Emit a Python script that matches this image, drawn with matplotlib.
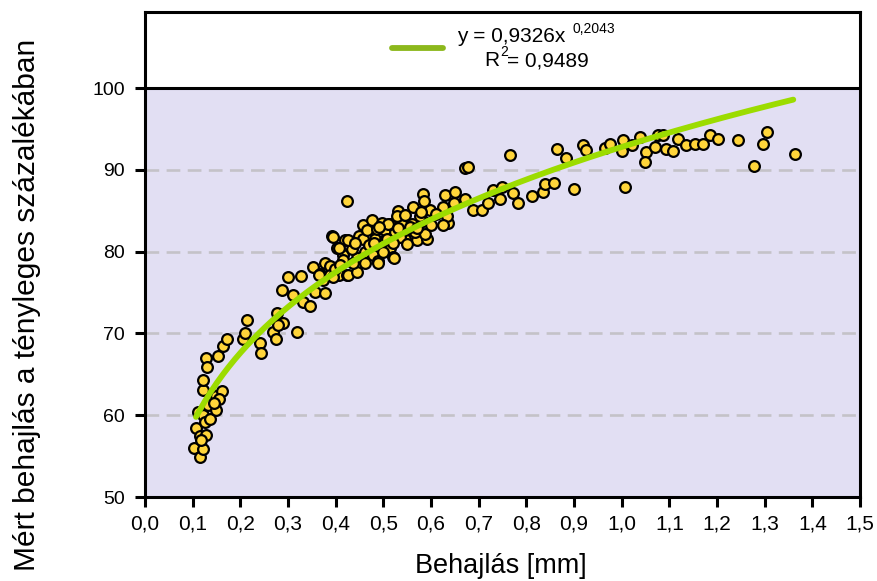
import matplotlib

matplotlib.use("Agg")

import matplotlib.pyplot as plt
import numpy as np

behajlas = [
    0.103, 0.115, 0.122, 0.108, 0.115, 0.129, 0.112, 0.122, 0.126, 0.136,
    0.133, 0.150, 0.140, 0.150, 0.161, 0.155, 0.122, 0.122, 0.128, 0.131,
    0.154, 0.163, 0.173, 0.206, 0.210, 0.213, 0.241, 0.243, 0.269, 0.275,
    0.276, 0.289, 0.318, 0.287, 0.311, 0.332, 0.346, 0.327, 0.353, 0.367,
    0.374, 0.357, 0.378, 0.378, 0.388, 0.388, 0.392, 0.402, 0.420, 0.416,
    0.406, 0.423, 0.399, 0.426, 0.444, 0.416, 0.444, 0.461, 0.461, 0.479,
    0.489, 0.514, 0.521, 0.434, 0.406, 0.426, 0.448, 0.458, 0.482, 0.503,
    0.524, 0.545, 0.570, 0.591, 0.458, 0.465, 0.486, 0.503, 0.524, 0.545,
    0.566, 0.587, 0.476, 0.497, 0.514, 0.539, 0.560, 0.584, 0.531, 0.528,
    0.545, 0.577, 0.562, 0.598, 0.626, 0.636, 0.633, 0.625, 0.584, 0.585,
    0.629, 0.650, 0.648, 0.671, 0.423, 0.671, 0.678, 0.689, 0.706, 0.720,
    0.731, 0.748, 0.745, 0.771, 0.783, 0.766, 0.811, 0.836, 0.839, 0.858,
    0.864, 0.883, 0.899, 0.919, 0.926, 0.965, 0.975, 1.003, 1.000, 1.021,
    1.038, 1.052, 1.049, 1.007, 1.070, 1.077, 1.087, 1.094, 1.108, 1.119,
    1.135, 1.154, 1.171, 1.185, 1.203, 1.245, 1.305, 1.297, 1.278, 1.364,
    0.409, 0.437, 0.489, 0.364, 0.395, 0.507, 0.535, 0.556, 0.510, 0.522,
    0.470, 0.500, 0.550, 0.570, 0.600, 0.610, 0.490, 0.530, 0.440, 0.480,
    0.520, 0.580, 0.395, 0.300, 0.280, 0.145, 0.118,
]
mert = [
    56.0, 54.9, 55.9, 58.4, 57.4, 57.6, 60.4, 60.0, 59.2, 59.5,
    61.2, 60.6, 62.5, 62.3, 62.9, 62.0, 63.1, 64.3, 67.0, 65.9,
    67.2, 68.5, 69.3, 69.3, 70.1, 71.6, 68.8, 67.6, 70.2, 69.3,
    72.5, 71.3, 70.2, 75.3, 74.7, 73.9, 73.3, 77.0, 78.1, 77.3,
    76.5, 75.1, 74.9, 78.6, 78.2, 77.1, 81.9, 80.4, 81.4, 79.6,
    77.1, 77.1, 77.9, 77.1, 77.5, 79.0, 79.2, 80.0, 78.6, 79.6,
    78.8, 80.4, 79.3, 80.3, 80.4, 81.4, 81.9, 81.6, 81.6, 81.4,
    81.7, 81.6, 81.4, 81.6, 83.3, 82.6, 82.8, 82.6, 82.4, 82.6,
    82.4, 82.2, 83.9, 83.5, 83.4, 83.3, 83.4, 83.7, 85.0, 84.3,
    84.5, 84.3, 85.5, 85.1, 85.5, 83.5, 84.3, 83.3, 87.0, 86.2,
    86.9, 87.3, 86.0, 86.4, 86.2, 90.2, 90.4, 85.1, 85.1, 85.9,
    87.5, 87.9, 86.4, 87.2, 86.0, 91.8, 86.8, 87.3, 88.3, 88.4,
    92.6, 91.4, 87.7, 93.0, 92.4, 92.7, 93.2, 93.6, 92.3, 93.0,
    94.0, 92.2, 90.9, 87.9, 92.8, 94.3, 94.3, 92.6, 92.3, 93.8,
    93.0, 93.2, 93.2, 94.3, 93.8, 93.6, 94.6, 93.2, 90.5, 91.9,
    78.4, 78.6, 78.6, 77.1, 81.8, 81.6, 81.8, 83.0, 83.4, 79.2,
    80.8, 80.0, 80.9, 82.9, 83.2, 84.6, 83.0, 82.9, 81.1, 81.0,
    81.0, 84.8, 76.9, 76.9, 71.0, 61.5, 57.0,
]

# power trend line as it is drawn in the chart (in %)
trend_a = 92.8
trend_b = 0.1967
trend_x_min = 0.107
trend_x_max = 1.36
trend_label = "y = 0,9326x"
trend_exp = "0,2043"
trend_r2 = "= 0,9489"

x_ticks = [0.0, 0.1, 0.2, 0.3, 0.4, 0.5, 0.6, 0.7, 0.8, 0.9, 1.0, 1.1, 1.2, 1.3, 1.4, 1.5]
y_ticks = [50, 60, 70, 80, 90, 100]

W, H = 878, 581
FONT = ["Liberation Sans", "DejaVu Sans"]


def fx(px):
    return px / W


def fy(py):
    return 1 - py / H


def main():
    fig = plt.figure(figsize=(W / 100, H / 100), dpi=100, facecolor="white")
    ax = fig.add_axes([fx(145), fy(497), fx(860) - fx(145), fy(12) - fy(497)])
    ax.set_facecolor("white")
    ax.set_xlim(0, 1.5)
    ax.set_ylim(50, 109.3)

    ax.axhspan(50, 100, color="#E2DFF3", zorder=0, lw=0)
    for g in y_ticks[1:-1]:
        ax.axhline(g, color="#C4C2C8", lw=1.9, dashes=(5.2, 2.8), zorder=1)
    ax.axhline(100, color="black", lw=2.2, zorder=4)

    xs = np.linspace(trend_x_min, trend_x_max, 200)
    ax.plot(xs, trend_a * xs ** trend_b, color="#9CDC00", lw=4.2,
            solid_capstyle="round", zorder=3)

    ax.scatter(behajlas, mert, s=60, facecolor="#FFD53A", edgecolor="black",
               linewidth=1.6, zorder=2)

    for sp in ax.spines.values():
        sp.set_linewidth(2.2)
        sp.set_zorder(5)

    ax.set_xticks(x_ticks)
    ax.set_xticklabels([f"{t:.1f}".replace(".", ",") for t in x_ticks], family=FONT, fontsize=15)
    ax.set_yticks(y_ticks)
    ax.set_yticklabels([str(t) for t in y_ticks], family=FONT, fontsize=14)
    ax.tick_params(axis="x", direction="out", length=7.5, width=2.2, pad=5)
    ax.tick_params(axis="y", direction="out", length=7.5, width=2.2, pad=7)

    fig.text(fx(501), fy(566), "Behajlás [mm]", ha="center", va="center",
             fontsize=19.5, family=FONT)
    fig.text(fx(27), fy(305), "Mért behajlás a tényleges százalékában", ha="center",
             va="center", rotation=90, fontsize=21.5, family=FONT)

    # legend box content
    fig.add_artist(plt.Line2D([fx(392), fx(443)], [fy(48), fy(48)], color="#8CB81C",
                              lw=4.2, solid_capstyle="round"))
    fig.text(fx(457), fy(37), trend_label, ha="left", va="center", fontsize=15, family=FONT)
    fig.text(fx(573), fy(29), trend_exp, ha="left", va="center", fontsize=10, family=FONT)
    fig.text(fx(484), fy(61), "R", ha="left", va="center", fontsize=15, family=FONT)
    fig.text(fx(500), fy(52), "2", ha="left", va="center", fontsize=10, family=FONT)
    fig.text(fx(507), fy(61), trend_r2, ha="left", va="center", fontsize=15, family=FONT)

    fig.savefig("out.png", dpi=100)
    plt.close(fig)


if __name__ == "__main__":
    main()
